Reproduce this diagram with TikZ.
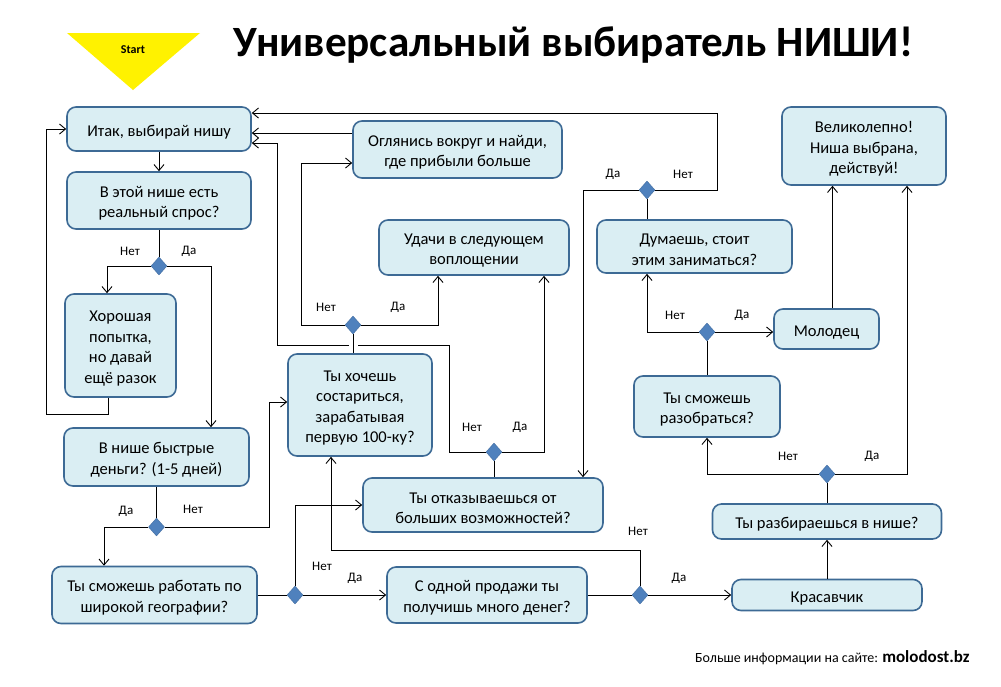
\documentclass[tikz,border=0pt]{standalone}
\usepackage{fontspec}
\setmainfont{Carlito}
\usetikzlibrary{arrows.meta,calc,shapes.geometric}
\definecolor{boxfill}{HTML}{DAEEF3}
\definecolor{boxdraw}{HTML}{3D6A95}
\definecolor{dia}{HTML}{4F81BD}
\newcommand\topgap{\rule{0pt}{17pt}}
\begin{document}
\begin{tikzpicture}[x=1pt,y=-1pt,
  box/.style={draw=boxdraw, fill=boxfill, line width=1.6pt, rounded corners=9pt, align=center,
    font=\fontsize{16.5}{20.5}\selectfont, inner sep=2pt},
  dec/.style={diamond, fill=dia, draw=dia!85!black, line width=0.4pt, minimum width=16pt,
    minimum height=18pt, inner sep=0pt},
  lbl/.style={font=\fontsize{13}{15}\selectfont, inner sep=0pt},
  conn/.style={line width=0.9pt, draw=black},
  >={Straight Barb[length=6pt,width=10pt]}]
\fill[white] (0,0) rectangle (1001,686);
\useasboundingbox (0,0) rectangle (1001,686);

% header
\fill[yellow] (67,33) -- (200,33) -- (133,90) -- cycle;
\node[font=\bfseries\fontsize{12}{14}\selectfont] (start) at (133,49.5) {Start};
\node[inner sep=0pt] (title) at (573.5,45) {\resizebox{679pt}{!}{\bfseries Универсальный выбиратель НИШИ!}};

% boxes
\node[box, minimum width=184pt, minimum height=44pt] (A) at (159,129) {\topgap Итак, выбирай нишу};
\node[box, minimum width=184pt, minimum height=57pt] (B) at (159,200.5) {\topgap В этой нише есть\\реальный спрос?};
\node[box, minimum width=111pt, minimum height=103pt] (C) at (120.5,345.5) {\topgap Хорошая\\попытка,\\но давай\\ещё разок};
\node[box, minimum width=185pt, minimum height=58pt] (D) at (156.5,457) {\topgap В нише быстрые\\деньги? (1-5 дней)};
\node[box, minimum width=205pt, minimum height=57pt] (E) at (154.5,595) {\topgap Ты сможешь работать по\\широкой географии?};
\node[box, minimum width=144pt, minimum height=102pt] (F) at (360,405) {\topgap Ты хочешь\\состариться,\\зарабатывая\\первую 100-ку?};
\node[box, minimum width=209pt, minimum height=57pt] (G) at (457.5,149.5) {\topgap Оглянись вокруг и найди,\\где прибыли больше};
\node[box, minimum width=190pt, minimum height=55pt] (H) at (474,247.5) {\topgap Удачи в следующем\\воплощении};
\node[box, minimum width=240pt, minimum height=54pt] (I) at (483,505) {\topgap Ты отказываешься от\\больших возможностей?};
\node[box, minimum width=200pt, minimum height=56pt] (J) at (487,595) {\topgap С одной продажи ты\\получишь много денег?};
\node[box, minimum width=190pt, minimum height=31pt] (K) at (827,595) {\topgap Красавчик};
\node[box, minimum width=229pt, minimum height=35pt] (L) at (827,521.5) {\topgap Ты разбираешься в нише?};
\node[box, minimum width=146pt, minimum height=61pt] (M) at (707,406.5) {\topgap Ты сможешь\\разобраться?};
\node[box, minimum width=164pt, minimum height=78pt] (N) at (864,146) {\topgap Великолепно!\\Ниша выбрана,\\действуй!};
\node[box, minimum width=195pt, minimum height=53pt] (O) at (694.5,246.5) {\topgap Думаешь, стоит\\этим заниматься?};
\node[box, minimum width=105pt, minimum height=40pt] (P) at (826.5,329) {\topgap Молодец};

% decisions
\node[dec] (D1) at (159,266) {};
\node[dec] (D2) at (156.5,527) {};
\node[dec] (D3) at (353,325) {};
\node[dec] (D4) at (494,452) {};
\node[dec] (D5) at (647,190) {};
\node[dec] (D6) at (295,595) {};
\node[dec] (D7) at (640,595) {};
\node[dec] (D8) at (827,474) {};
\node[dec] (D9) at (707,332) {};

% labels
\node[lbl] (l1n) at (130,251) {Нет};
\node[lbl] (l1d) at (189,251) {Да};
\node[lbl] (l2d) at (126,511) {Да};
\node[lbl] (l2n) at (193,509) {Нет};
\node[lbl] (l3n) at (326,307) {Нет};
\node[lbl] (l3d) at (398,307) {Да};
\node[lbl] (l4n) at (472,427) {Нет};
\node[lbl] (l4d) at (520,427) {Да};
\node[lbl] (l5d) at (613,174) {Да};
\node[lbl] (l5n) at (683,174) {Нет};
\node[lbl] (l6n) at (322,566) {Нет};
\node[lbl] (l6d) at (355,578) {Да};
\node[lbl] (l7n) at (638,531) {Нет};
\node[lbl] (l7d) at (679,578) {Да};
\node[lbl] (l8n) at (788,456) {Нет};
\node[lbl] (l8d) at (872,456) {Да};
\node[lbl] (l9n) at (675,315) {Нет};
\node[lbl] (l9d) at (742,315) {Да};

% waypoints
\coordinate (wc) at (46,414);
\coordinate (w2) at ($([yshift=3pt]F.west)+(-18,0)$);
\coordinate (w3) at ($([yshift=-13.5pt]G.west)+(-51,0)$);
\coordinate (g1) at ([yshift=16.5pt]G.west);
\coordinate (w4a) at (449,345);
\coordinate (w4b) at (277,143);
\coordinate (w5) at (717,113);
\coordinate (p1) at ([xshift=6pt]P.north);
\coordinate (w7) at (331,550);

% connectors
\draw[conn,->] (A.south) -- (B.north);
\draw[conn] (B.south) -- (D1.north);
\draw[conn,->] (D1.west) -| ([xshift=-13.5pt]C.north);
\draw[conn,->] (D1.east) -| ([xshift=54.5pt]D.north);
\draw[conn,->] ([xshift=-12.5pt]C.south) |- (wc) |- (A.west);
\draw[conn] (D.south) -- (D2.north);
\draw[conn,->] (D2.west) -| ([xshift=-50.5pt]E.north);
\draw[conn,->] (D2.east) -| (w2) -- ([yshift=3pt]F.west);
\draw[conn,->] (D3.west) -| (w3) -- ([yshift=-13.5pt]G.west);
\draw[conn,->] (D3.east) -| ([xshift=-36pt]H.south);
\draw[conn,->] (g1) -- (g1 -| A.east);
\draw[conn,->] (D4.west) -| (w4a) -| (w4b) -- (w4b -| A.east);
\draw[conn, preaction={draw=white, line width=9pt, shorten >=2pt, shorten <=1pt}] (D3.south) -- (D3.south |- F.north);
\draw[conn,->] (D4.east) -| ([xshift=70pt]H.south);
\draw[conn] (D4.south) -- (D4.south |- I.north);
\draw[conn,->] (D5.west) -| ([xshift=100pt]I.north);
\draw[conn,->] (D5.east) -| (w5) -- (w5 -| A.east);
\draw[conn] (D5.south) -- (D5.south |- O.north);
\draw[conn,->] (D9.west) -| ([xshift=-47.5pt]O.south);
\draw[conn,->] (D9.east) -- (D9.east -| P.west);
\draw[conn] (D9.south) -- (D9.south |- M.north);
\draw[conn,->] (p1) -- (p1 |- N.south);
\draw[conn,->] (D8.west) -| (M.south);
\draw[conn,->] (D8.east) -| ([xshift=43pt]N.south);
\draw[conn] (L.north) -- (D8.south);
\draw[conn,->] (K.north) -- (L.south);
\draw[conn] (E.east) -- (D6.west);
\draw[conn,->] (D6.east) -- (J.west);
\draw[conn,->] (D6.north) |- (I.west);
\draw[conn] (J.east) -- (D7.west);
\draw[conn,->] (D7.east) -- (K.west);
\draw[conn,->] (D7.north) |- (w7) -- (w7 |- F.south);

% footer
\node[anchor=base west, inner sep=0pt, font=\fontsize{14}{16}\selectfont] (foot) at (695,662)
  {Больше информации на сайте: {\bfseries\fontsize{17}{19}\selectfont molodost.bz}};
\end{tikzpicture}
\end{document}
